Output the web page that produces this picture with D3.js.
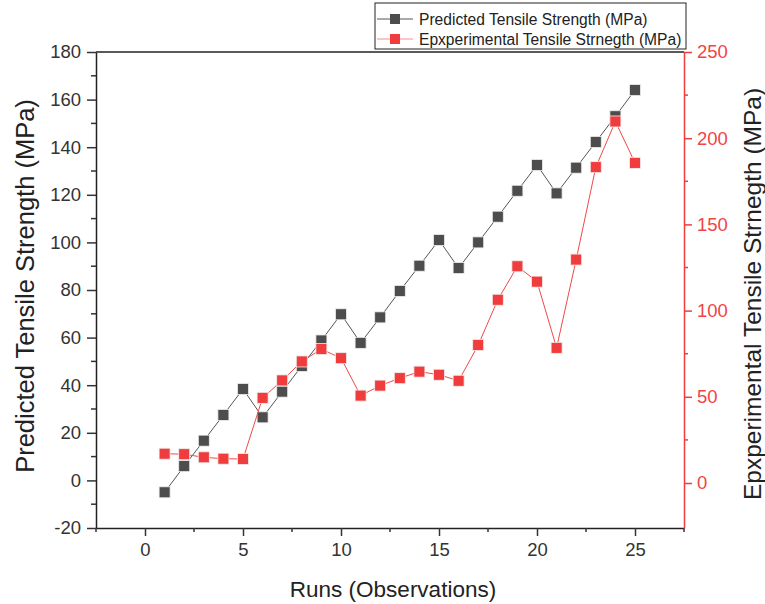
<!DOCTYPE html>
<html>
<head>
<meta charset="utf-8">
<script src="https://cdn.jsdelivr.net/npm/d3@7"></script>
<style>
  body { margin: 0; background: #fff; }
  text { font-family: "Liberation Sans", Arial, sans-serif; }
</style>
</head>
<body>
<div id="chart"></div>
<script>
var runs = d3.range(1, 26);
var predicted = [-5, 6, 16.7, 27.5, 38.4, 26.5, 37.3, 48.1, 58.8, 69.8, 57.8, 68.5, 79.6, 90.2, 101,
  89.2, 100, 110.8, 121.7, 132.5, 120.6, 131.4, 142.2, 153, 164];
var experimental = [17, 16.7, 14.9, 14.1, 13.9, 49.4, 59.5, 70.5, 77.7, 72.4, 50.7, 56.5, 60.8, 64.6, 62.8,
  59.3, 80, 106.3, 125.7, 116.8, 78.4, 129.6, 183.2, 209.7, 185.7];
var xTicks = [0, 5, 10, 15, 20, 25];
var leftTicks = [-20, 0, 20, 40, 60, 80, 100, 120, 140, 160, 180];
var rightTicks = [0, 50, 100, 150, 200, 250];

var black = '#4d4d4d', red = '#f03c3c';
var W = 765, H = 604;
var margin = { top: 52, right: 81, bottom: 76, left: 96 };
var width = W - margin.left - margin.right;
var height = H - margin.top - margin.bottom;

var svg = d3.select('#chart').append('svg')
  .attr('width', W).attr('height', H);
var g = svg.append('g')
  .attr('transform', 'translate(' + margin.left + ',' + margin.top + ')');

var x = d3.scaleLinear().domain([-2.5, 27.5]).range([0, width]);
var yL = d3.scaleLinear().domain([-20, 180]).range([height, 0]);
var yR = d3.scaleLinear().domain([-26.1, 250]).range([height, 0]);

// minor ticks
function minor(axisG, vals, fn) {
  axisG.selectAll('.minor').data(vals).enter().append('line').attr('class', 'minor').each(fn);
}

// bottom axis
var xAx = g.append('g').attr('transform', 'translate(0,' + height + ')')
  .call(d3.axisBottom(x).tickValues(xTicks).tickSize(8).tickPadding(7).tickSizeOuter(0));
xAx.selectAll('line').attr('stroke', '#333').attr('stroke-width', 1.5);
xAx.select('.domain').attr('stroke', '#222').attr('stroke-width', 1.5);
xAx.selectAll('text').attr('font-size', 18.5).attr('fill', '#333');
minor(xAx, [-2.5, 2.5, 7.5, 12.5, 17.5, 22.5, 27.5], function(d) {
  d3.select(this).attr('x1', x(d)).attr('x2', x(d)).attr('y1', 0).attr('y2', 4)
    .attr('stroke', '#333').attr('stroke-width', 1.5);
});

// left axis
var yAx = g.append('g')
  .call(d3.axisLeft(yL).tickValues(leftTicks).tickSize(9).tickPadding(6).tickSizeOuter(0)
    .tickFormat(function(d) { return String(d); }));
yAx.selectAll('line').attr('stroke', '#333').attr('stroke-width', 1.5);
yAx.select('.domain').attr('stroke', '#222').attr('stroke-width', 1.5);
yAx.selectAll('text').attr('font-size', 18.5).attr('fill', '#333');
minor(yAx, d3.range(-10, 180, 20), function(d) {
  d3.select(this).attr('x1', 0).attr('x2', -5).attr('y1', yL(d)).attr('y2', yL(d))
    .attr('stroke', '#333').attr('stroke-width', 1.5);
});

// top border
g.append('line').attr('x1', 0).attr('x2', width).attr('y1', 0).attr('y2', 0)
  .attr('stroke', '#222').attr('stroke-width', 1.5);

// right axis
var rAx = g.append('g').attr('transform', 'translate(' + width + ',0)')
  .call(d3.axisRight(yR).tickValues(rightTicks).tickSize(8).tickPadding(5).tickSizeOuter(0));
rAx.selectAll('line').attr('stroke', red).attr('stroke-width', 1.5);
rAx.select('.domain').attr('stroke', red).attr('stroke-width', 1.5);
rAx.selectAll('text').attr('font-size', 18.5).attr('fill', '#f24444');
minor(rAx, [25, 75, 125, 175, 225], function(d) {
  d3.select(this).attr('x1', 0).attr('x2', 4).attr('y1', yR(d)).attr('y2', yR(d))
    .attr('stroke', red).attr('stroke-width', 1.5);
});

// series
function drawSeries(vals, yScale, color, lineColor) {
  var line = d3.line().x(function(d, i) { return x(runs[i]); }).y(function(d) { return yScale(d); });
  g.append('path').datum(vals).attr('d', line).attr('fill', 'none')
    .attr('stroke', lineColor).attr('stroke-width', 1);
  g.selectAll(null).data(vals).enter().append('rect')
    .attr('x', function(d, i) { return x(runs[i]) - 5.5; })
    .attr('y', function(d) { return yScale(d) - 5.5; })
    .attr('width', 11).attr('height', 11)
    .attr('fill', color).attr('stroke', '#eee').attr('stroke-width', 0.8);
}
drawSeries(predicted, yL, black, '#555');
drawSeries(experimental, yR, red, '#f04848');

// axis titles
svg.append('text').attr('x', margin.left + width / 2 + 3).attr('y', 597)
  .attr('text-anchor', 'middle').attr('font-size', 22.5).attr('fill', '#222')
  .text('Runs (Observations)');
svg.append('text').attr('transform', 'translate(34,' + 286 + ') rotate(-90)')
  .attr('text-anchor', 'middle').attr('font-size', 25.5).attr('fill', '#222')
  .text('Predicted Tensile Strength (MPa)');
svg.append('text').attr('transform', 'translate(761,' + 294 + ') rotate(-90)')
  .attr('text-anchor', 'middle').attr('font-size', 24.5).attr('fill', '#222')
  .text('Epxperimental Tensile Strnegth (MPa)');

// legend
var leg = svg.append('g').attr('transform', 'translate(375,3)');
leg.append('rect').attr('width', 311).attr('height', 46)
  .attr('fill', '#fff').attr('stroke', '#222').attr('stroke-width', 1);
var items = [
  { name: 'Predicted Tensile Strength (MPa)', color: black, lc: '#555' },
  { name: 'Epxperimental Tensile Strnegth (MPa)', color: red, lc: '#f88' }
];
items.forEach(function(it, i) {
  var yy = 16 + i * 20;
  leg.append('line').attr('x1', 2).attr('x2', 38).attr('y1', yy).attr('y2', yy)
    .attr('stroke', it.lc).attr('stroke-width', 1);
  leg.append('rect').attr('x', 15).attr('y', yy - 5).attr('width', 10).attr('height', 10)
    .attr('fill', it.color);
  leg.append('text').attr('x', 44).attr('y', yy + 6).attr('font-size', 15.6).attr('fill', '#222')
    .text(it.name);
});
</script>
</body>
</html>
